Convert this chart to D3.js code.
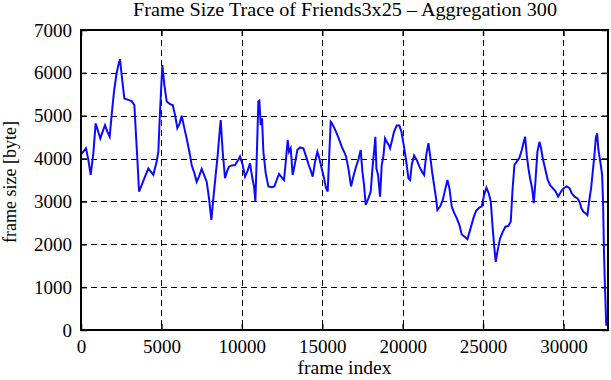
<!DOCTYPE html>
<html>
<head>
<meta charset="utf-8">
<script src="https://cdn.jsdelivr.net/npm/d3@7"></script>
<style>
  html, body { margin: 0; padding: 0; background: #fff; }
  svg { display: block; }
  text { font-family: "Liberation Serif", "DejaVu Serif", serif; fill: #000; }
</style>
</head>
<body>
<svg id="chart" width="611" height="380"></svg>
<script>
const title = "Frame Size Trace of Friends3x25 \u2013 Aggregation 300";
const xLabel = "frame index";
const yLabel = "frame size [byte]";
const xTicks = [0, 5000, 10000, 15000, 20000, 25000, 30000];
const yTicks = [0, 1000, 2000, 3000, 4000, 5000, 6000, 7000];
const xMax = 32768;
const yMax = 7000;

const frameIndex = [
  0,145,311,456,601,767,912,1037,1202,1347,1493,1638,1783,1907,2052,2197,2322,2425,2529,2695,
  2944,3151,3317,3420,3503,3607,3773,3980,4187,4353,4498,4706,4809,4913,5058,5183,5328,5535,5701,5846,
  5991,6136,6260,6426,6571,6737,6882,7048,7193,7338,7504,7649,7815,7960,8105,8230,8375,8499,8603,8686,
  8810,8955,9080,9204,9370,9577,9785,9888,10054,10199,10344,10510,10655,10759,10842,10925,11028,11090,11173,11256,
  11339,11484,11650,11857,12023,12168,12313,12479,12624,12749,12852,12935,13039,13163,13308,13454,13619,13827,13993,14158,
  14303,14407,14552,14697,14822,14967,15112,15236,15340,15444,15527,15610,15755,15900,16066,16211,16356,16480,16625,16791,
  16936,17102,17268,17392,17496,17600,17703,17869,18014,18139,18242,18304,18367,18470,18595,18698,18802,18906,19009,19134,
  19217,19341,19465,19631,19797,19921,20046,20150,20253,20357,20461,20565,20710,20876,21041,21187,21332,21456,21601,21705,
  21829,21954,22078,22161,22327,22493,22638,22783,22907,23052,23218,23363,23529,23674,23840,24027,24192,24400,24566,24773,
  24918,25063,25208,25353,25478,25582,25685,25789,25892,26058,26224,26390,26576,26721,26825,26949,27094,27260,27406,27509,
  27613,27717,27820,27924,28048,28152,28255,28380,28504,28608,28712,28857,29022,29168,29333,29499,29665,29790,29914,30059,
  30204,30370,30515,30681,30867,30992,31116,31241,31386,31490,31593,31718,31822,31925,32008,32091,32174,32236,32319,32402,
  32460,32520,32580,32660
];
const frameSize = [
  4100,4160,4240,3970,3620,4120,4820,4670,4470,4630,4780,4630,4510,5020,5560,5950,6180,6320,5950,5400,
  5370,5340,5250,4550,4000,3230,3380,3580,3770,3690,3620,3930,4160,5100,6180,5720,5330,5270,5250,5020,
  4710,4820,5000,4710,4470,4160,3850,3660,3460,3580,3760,3620,3460,3070,2570,3070,3620,4080,4550,4900,
  4160,3540,3700,3810,3840,3850,3970,4050,3850,3580,3700,3890,3540,3350,3000,4000,5330,5350,4780,4940,
  4160,3660,3350,3330,3350,3500,3640,3560,3500,4000,4430,4160,4240,3620,3890,4200,4260,4240,4050,3850,
  3700,3580,3930,4160,4000,3770,3540,3310,3230,4160,4860,4820,4710,4590,4430,4280,4160,4050,3770,3350,
  3580,3810,4000,4200,3700,3380,2920,3070,3230,3850,4240,4510,3770,3620,3110,3850,4050,4470,4390,4320,
  4240,4430,4630,4770,4770,4630,4360,4120,3850,3540,3500,3850,4070,3970,3810,3700,3620,4050,4360,4080,
  3700,3380,3070,2800,2880,3030,3270,3500,3310,2880,2720,2610,2450,2230,2180,2120,2330,2610,2780,2860,
  2880,3150,3320,3190,3000,2450,1980,1590,1830,2140,2290,2410,2430,2530,3230,3850,3930,4020,4200,4360,
  4510,4080,3770,3540,3310,2960,3460,4160,4390,4240,4000,3770,3500,3380,3310,3240,3110,3190,3270,3320,
  3350,3310,3190,3110,3070,3000,2840,2760,2720,2680,3000,3310,3700,4080,4470,4590,4200,4050,3850,3620,
  3000,1800,1000,100
];

const W = 611, H = 380;
const margin = {top: 30, right: 3, bottom: 50, left: 81};
const iw = W - margin.left - margin.right;
const ih = H - margin.top - margin.bottom;

const svg = d3.select("#chart");
const g = svg.append("g").attr("transform", `translate(${margin.left},${margin.top})`);

const x = d3.scaleLinear().domain([0, xMax]).range([0, iw]);
const y = d3.scaleLinear().domain([0, yMax]).range([ih, 0]);

// grid
g.append("g").selectAll("line").data(xTicks.filter(d => d > 0)).join("line")
  .attr("x1", d => Math.round(x(d)) + 0.5).attr("x2", d => Math.round(x(d)) + 0.5)
  .attr("y1", 0).attr("y2", ih)
  .attr("stroke", "#000").attr("stroke-width", 1).attr("stroke-dasharray", "6,4");
g.append("g").selectAll("line").data(yTicks.filter(d => d > 0 && d < yMax)).join("line")
  .attr("y1", d => Math.round(y(d)) + 0.5).attr("y2", d => Math.round(y(d)) + 0.5)
  .attr("x1", 0).attr("x2", iw)
  .attr("stroke", "#000").attr("stroke-width", 1).attr("stroke-dasharray", "6,4");

// axes
const fs = 19;
const xAxis = g.append("g").attr("transform", `translate(0,${ih})`)
  .call(d3.axisBottom(x).tickValues(xTicks).tickFormat(d3.format("d")).tickSizeInner(-6).tickSizeOuter(0).tickPadding(10));
const xAxisTop = g.append("g")
  .call(d3.axisTop(x).tickValues(xTicks).tickFormat("").tickSizeInner(-6).tickSizeOuter(0));
const yAxis = g.append("g")
  .call(d3.axisLeft(y).tickValues(yTicks).tickFormat(d3.format("d")).tickSizeInner(-6).tickSizeOuter(0).tickPadding(9));
const yAxisRight = g.append("g").attr("transform", `translate(${iw},0)`)
  .call(d3.axisRight(y).tickValues(yTicks).tickFormat("").tickSizeInner(-6).tickSizeOuter(0));
[xAxis, xAxisTop, yAxis, yAxisRight].forEach(a => {
  a.select(".domain").remove();
  a.selectAll(".tick line").attr("stroke", "#000").attr("stroke-width", 1.5);
  a.selectAll("text").style("font-family", "'Liberation Serif', serif").style("font-size", fs + "px").attr("fill", "#000");
});

// line
const line = d3.line().x((d, i) => x(frameIndex[i])).y(d => y(d));
g.append("path").datum(frameSize)
  .attr("d", line)
  .attr("fill", "none").attr("stroke", "#0a0aff").attr("stroke-width", 2).attr("stroke-linejoin", "miter");

// frame
g.append("rect").attr("x", 0).attr("y", 0).attr("width", iw).attr("height", ih)
  .attr("fill", "none").attr("stroke", "#000").attr("stroke-width", 2);

// title and labels
svg.append("text").attr("x", 345).attr("y", 16)
  .attr("text-anchor", "middle").style("font-size", "18px")
  .attr("textLength", 424).attr("lengthAdjust", "spacingAndGlyphs").text(title);
svg.append("text").attr("x", margin.left + iw / 2).attr("y", 374)
  .attr("text-anchor", "middle").style("font-size", "18px")
  .attr("textLength", 94).attr("lengthAdjust", "spacingAndGlyphs").text(xLabel);
svg.append("text").attr("transform", `translate(16,${margin.top + ih / 2 + 2}) rotate(-90)`)
  .attr("text-anchor", "middle").style("font-size", "18px").text(yLabel);
</script>
</body>
</html>
